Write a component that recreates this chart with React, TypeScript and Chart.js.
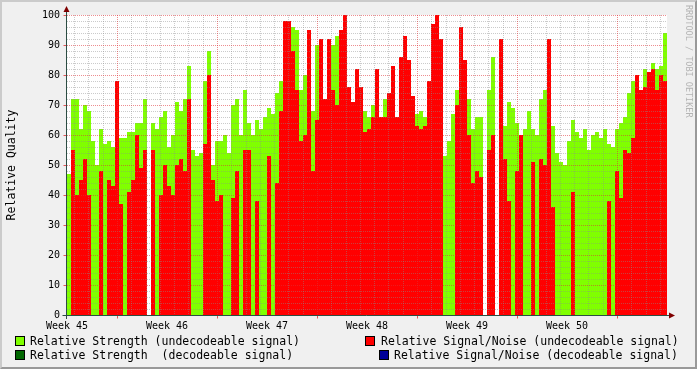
import React, { useEffect, useRef } from 'react';
import { Chart, registerables } from 'chart.js';

Chart.register(...registerables);

// ---- data (one value per 4px column, 6 weeks = 42 days) ----
const weekLabels = ['Week 45', 'Week 46', 'Week 47', 'Week 48', 'Week 49', 'Week 50'];
const spanDays = 42;

const relStrength: (number | null)[] = [
  47, 72, 72, 62, 70, 68, 58, 50, 62, 57,
  58, 56, 68, 59, 59, 61, 61, 64, 64, 72,
  null, 64, 62, 66, 68, 56, 60, 71, 68, 72,
  83, 55, 53, 54, 78, 88, 50, 58, 58, 60,
  54, 70, 72, 60, 75, 64, 60, 65, 62, 66,
  69, 67, 74, 78, 90, 85, 96, 95, 75, 80,
  88, 68, 90, 72, 64, 74, 90, 93, 75, 75,
  70, 71, 73, 76, 68, 66, 70, 76, 62, 72,
  67, 67, 58, 70, 70, 69, 71, 67, 68, 66,
  66, 70, 70, 56, 53, 58, 67, 75, 85, 80,
  72, 62, 66, 66, null, 75, 86, null, 80, 63,
  71, 69, 64, 56, 62, 68, 62, 60, 72, 75,
  65, 63, 54, 51, 50, 58, 65, 61, 59, 62,
  55, 60, 61, 59, 62, 57, 56, 62, 64, 66,
  74, 78, 72, 70, 82, 80, 84, 82, 83, 94,
];

const relSnr: (number | null)[] = [
  0, 55, 40, 45, 52, 40, 0, 0, 48, 0,
  45, 43, 78, 37, 0, 41, 45, 60, 49, 55,
  null, 55, 0, 40, 50, 43, 40, 50, 52, 48,
  72, 0, 0, 0, 57, 80, 45, 38, 40, 0,
  0, 39, 48, 0, 55, 55, 0, 38, 0, 0,
  53, 0, 44, 68, 98, 98, 88, 75, 58, 60,
  95, 48, 65, 92, 72, 92, 75, 70, 95, 100,
  76, 71, 82, 76, 61, 62, 66, 82, 66, 66,
  74, 83, 66, 86, 93, 85, 73, 63, 62, 63,
  78, 97, 100, 92, 0, 0, 0, 70, 96, 85,
  60, 44, 48, 46, null, 55, 60, null, 92, 52,
  38, 0, 48, 60, 0, 0, 51, 0, 52, 50,
  92, 36, 0, 0, 0, 0, 41, 0, 0, 0,
  0, 0, 0, 0, 0, 38, 0, 48, 39, 55,
  54, 59, 80, 75, 76, 81, 82, 75, 80, 78,
];

const legendLabels = [
  'Relative Strength (undecodeable signal)',
  'Relative Signal/Noise (undecodeable signal)',
  'Relative Strength  (decodeable signal)',
  'Relative Signal/Noise (decodeable signal)',
];
const legendColors = ['#80ff00', '#ff0000', '#006600', '#000099'];

const FONT = '"DejaVu Sans Mono", monospace';

const rrdPlugin = {
  id: 'rrdGrid',
  beforeDatasetsDraw(chart: any) {
    const { ctx, chartArea: a } = chart;
    ctx.save();
    ctx.fillStyle = '#ffffff';
    ctx.fillRect(a.left, a.top, a.right - a.left, a.bottom - a.top);
    ctx.restore();
  },
  afterDatasetsDraw(chart: any) {
    const { ctx, chartArea: a, scales } = chart;
    const x = scales.x;
    const y = scales.y;
    const line = (x1: number, y1: number, x2: number, y2: number) => {
      ctx.beginPath();
      ctx.moveTo(x1, y1);
      ctx.lineTo(x2, y2);
      ctx.stroke();
    };
    ctx.save();
    ctx.lineWidth = 1;
    ctx.setLineDash([1, 1]);
    // minor grid
    ctx.strokeStyle = 'rgba(140,140,140,0.45)';
    for (let v = 2; v < 100; v += 2) {
      if (v % 10 === 0) continue;
      const py = Math.round(y.getPixelForValue(v)) + 0.5;
      line(a.left, py, a.right, py);
    }
    for (let d = 0.5; d < spanDays; d += 1) {
      if (Math.abs(((d - 3.5) % 7 + 7) % 7) < 1e-6) continue;
      const px = Math.round(x.getPixelForValue(d)) + 0.5;
      line(px, a.top, px, a.bottom);
    }
    // major grid
    ctx.strokeStyle = 'rgba(222,48,51,0.55)';
    for (let v = 10; v <= 100; v += 10) {
      const py = Math.round(y.getPixelForValue(v)) + 0.5;
      line(a.left, py, a.right, py);
    }
    for (let d = 3.5; d < spanDays; d += 7) {
      const px = Math.round(x.getPixelForValue(d)) + 0.5;
      line(px, a.top, px, a.bottom);
    }
    ctx.setLineDash([]);
    // tick marks
    const y0 = Math.round(y.getPixelForValue(0)) + 0.5;
    const x0 = Math.round(x.getPixelForValue(0)) - 0.5;
    ctx.strokeStyle = 'rgba(222,48,51,0.8)';
    for (let d = 3.5; d < spanDays; d += 7) {
      const px = Math.round(x.getPixelForValue(d)) + 0.5;
      line(px, y0, px, y0 + 3);
    }
    for (let v = 10; v <= 100; v += 10) {
      const py = Math.round(y.getPixelForValue(v)) + 0.5;
      line(x0 - 3, py, x0, py);
    }
    // axes
    ctx.strokeStyle = '#2c4d43';
    line(x0, a.bottom + 4, x0, a.top - 6);
    line(x0 - 4, y0, a.right + 4, y0);
    // arrows
    ctx.fillStyle = '#7f0000';
    ctx.beginPath();
    ctx.moveTo(x0 - 3, a.top - 3);
    ctx.lineTo(x0 + 3, a.top - 3);
    ctx.lineTo(x0, a.top - 9);
    ctx.closePath();
    ctx.fill();
    ctx.beginPath();
    ctx.moveTo(a.right + 2, y0 - 3);
    ctx.lineTo(a.right + 2, y0 + 3);
    ctx.lineTo(a.right + 8, y0);
    ctx.closePath();
    ctx.fill();
    // y title
    ctx.fillStyle = '#000000';
    ctx.font = `11.5px ${FONT}`;
    ctx.textAlign = 'center';
    ctx.textBaseline = 'middle';
    ctx.save();
    ctx.translate(12, (a.top + a.bottom) / 2);
    ctx.rotate(-Math.PI / 2);
    ctx.fillText('Relative Quality', 0, 0);
    ctx.restore();
    // watermark
    ctx.save();
    ctx.fillStyle = '#b4b4b4';
    ctx.font = `8.5px ${FONT}`;
    ctx.textAlign = 'left';
    ctx.textBaseline = 'middle';
    ctx.translate(688, 5);
    ctx.rotate(Math.PI / 2);
    ctx.fillText('RRDTOOL / TOBI OETIKER', 0, 0);
    ctx.restore();
    ctx.restore();
  },
};

export default function App() {
  const ref = useRef<HTMLCanvasElement>(null);

  useEffect(() => {
    document.body.style.margin = '0';
    const n = relStrength.length;
    const step = spanDays / n;
    const toPts = (arr: (number | null)[]) => arr.map((v, i) => ({ x: (i + 0.5) * step, y: v }));
    const barCommon = {
      grouped: false,
      barPercentage: 1,
      categoryPercentage: 1,
      borderWidth: 0,
      inflateAmount: 0,
    };
    const chart = new Chart(ref.current as HTMLCanvasElement, {
      type: 'bar',
      data: {
        datasets: [
          { label: legendLabels[1], data: toPts(relSnr) as any, backgroundColor: '#ff0000', order: 0, ...barCommon } as any,
          { label: legendLabels[0], data: toPts(relStrength) as any, backgroundColor: '#80ff00', order: 1, ...barCommon } as any,
        ],
      },
      options: {
        animation: false,
        responsive: false,
        maintainAspectRatio: false,
        layout: { padding: { left: 0, right: 30, top: 15, bottom: 34 } },
        plugins: { legend: { display: false }, tooltip: { enabled: false } },
        scales: {
          x: {
            type: 'linear',
            min: 0,
            max: spanDays,
            offset: false,
            grid: { display: false, drawTicks: false },
            border: { display: false },
            ticks: {
              stepSize: 7,
              autoSkip: false,
              maxRotation: 0,
              padding: 5,
              color: '#000',
              font: { family: FONT, size: 10 },
              callback: (v: any) => {
                const idx = Math.round(Number(v) / 7);
                return idx < weekLabels.length ? weekLabels[idx] : '';
              },
            },
            afterFit: (s: any) => {
              s.height = 20;
            },
          },
          y: {
            min: 0,
            max: 100,
            grid: { display: false, drawTicks: false },
            border: { display: false },
            ticks: {
              stepSize: 10,
              padding: 7,
              color: '#000',
              font: { family: FONT, size: 10 },
            },
            afterFit: (s: any) => {
              s.width = 67;
            },
          },
        },
      } as any,
      plugins: [rrdPlugin],
    });
    return () => chart.destroy();
  }, []);

  const legendPos = [
    { sq: [15, 336], tx: [30, 335] },
    { sq: [365, 336], tx: [381, 335] },
    { sq: [15, 350], tx: [30, 349] },
    { sq: [379, 350], tx: [394, 349] },
  ];

  return (
    <div
      style={{
        position: 'relative',
        width: 697,
        height: 369,
        background: '#f0f0f0',
        overflow: 'hidden',
        fontFamily: FONT,
      }}
    >
      <canvas
        ref={ref}
        width={697}
        height={369}
        style={{ position: 'absolute', left: 0, top: 0, width: 697, height: 369 }}
      />
      {legendLabels.map((label, i) => (
        <React.Fragment key={label}>
          <div
            style={{
              position: 'absolute',
              left: legendPos[i].sq[0],
              top: legendPos[i].sq[1],
              width: 8,
              height: 8,
              background: legendColors[i],
              border: '1px solid #000',
            }}
          />
          <div
            style={{
              position: 'absolute',
              left: legendPos[i].tx[0],
              top: legendPos[i].tx[1],
              fontSize: 11.5,
              lineHeight: '12px',
              whiteSpace: 'pre',
              color: '#000',
            }}
          >
            {label}
          </div>
        </React.Fragment>
      ))}
      <div
        style={{
          position: 'absolute',
          left: 0,
          top: 0,
          width: 697,
          height: 369,
          boxSizing: 'border-box',
          borderTop: '2px solid #cbcbcb',
          borderLeft: '2px solid #cbcbcb',
          borderRight: '2px solid #999999',
          borderBottom: '2px solid #999999',
          pointerEvents: 'none',
        }}
      />
    </div>
  );
}
